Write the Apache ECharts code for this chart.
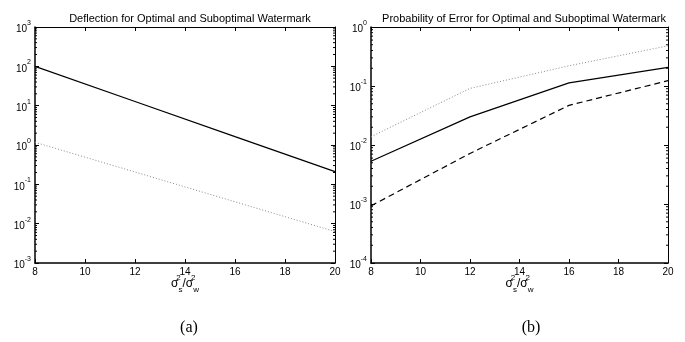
<!DOCTYPE html>
<html>
<head>
<meta charset="utf-8">
<script src="https://cdn.jsdelivr.net/npm/echarts@6/dist/echarts.min.js"></script>
<style>html,body{margin:0;padding:0;background:#fff}#c{width:685px;height:342px}</style>
</head>
<body>
<div id="c"></div>
<script>
// ---- data ----
const xValues = [8, 12, 16, 20];
const xTicks = [8, 10, 12, 14, 16, 18, 20];
// (a) Deflection
const deflOptimal = [100, 12.8, 1.63, 0.21];
const deflSubopt = [1.17, 0.206, 0.036, 0.0063];
// (b) Probability of error
const peDotted = [0.0138, 0.091, 0.22, 0.48];
const peSolid = [0.0053, 0.030, 0.113, 0.207];
const peDashed = [0.00093, 0.0072, 0.047, 0.123];
const yRangeA = [1e-3, 1e3];
const yRangeB = [1e-4, 1];
const titleA = 'Deflection for Optimal and Suboptimal Watermark';
const titleB = 'Probability of Error for Optimal and Suboptimal Watermark';
const captions = ['(a)', '(b)'];

function minorTicks(lo, hi) {
  const out = [];
  for (let e = Math.round(Math.log10(lo)); e < Math.round(Math.log10(hi)); e++) {
    for (let m = 2; m <= 9; m++) out.push(m * Math.pow(10, e));
  }
  return out;
}

const font = 'Liberation Sans, Arial, sans-serif';
const chart = echarts.init(document.getElementById('c'));

const yLabelFmt = v => '{b|10}{s|' + Math.round(Math.log10(v)) + '}';
const yRich = {
  b: { fontSize: 10, fontFamily: font, color: '#000', lineHeight: 15, verticalAlign: 'bottom' },
  s: { fontSize: 7, fontFamily: font, color: '#000', lineHeight: 15, verticalAlign: 'top' }
};
const xName = '{g|σ}{sup|2}{sub|s}{g|/σ}{sup|2}{sub|w}';
const xRich = {
  g: { fontSize: 12, fontFamily: font, color: '#000', lineHeight: 20, verticalAlign: 'middle' },
  sup: { fontSize: 8, fontFamily: font, color: '#000', lineHeight: 20, verticalAlign: 'top', width: 0, align: 'left' },
  sub: { fontSize: 8, fontFamily: font, color: '#000', lineHeight: 20, verticalAlign: 'bottom' }
};

function xAxes(grid) {
  return [
    {
      type: 'value', gridIndex: grid, min: 8, max: 20, interval: 2, position: 'bottom',
      axisLine: { show: true, lineStyle: { color: '#000', width: 1.5 } },
      axisTick: { show: true, inside: true, length: 4, lineStyle: { color: '#000' } },
      axisLabel: { show: true, color: '#000', fontSize: 10, fontFamily: font, margin: 4 },
      splitLine: { show: false },
      name: xName, nameLocation: 'middle', nameGap: 11, nameMoveOverlap: false,
      nameTextStyle: { rich: xRich, verticalAlign: 'top' }
    },
    {
      type: 'value', gridIndex: grid, min: 8, max: 20, interval: 2, position: 'top',
      axisLine: { show: true, onZero: false, lineStyle: { color: '#000', width: 1 } },
      axisTick: { show: true, inside: true, length: 4, lineStyle: { color: '#000' } },
      axisLabel: { show: false }, splitLine: { show: false }
    }
  ];
}
function yAxes(grid, range, split) {
  return [
    {
      type: 'log', logBase: 10, gridIndex: grid, min: range[0], max: range[1], splitNumber: split, position: 'left',
      axisLine: { show: true, lineStyle: { color: '#000', width: 1.5 } },
      axisTick: { show: true, inside: true, length: 4, lineStyle: { color: '#000' } },
      axisLabel: { show: true, formatter: yLabelFmt, rich: yRich, margin: 4 },
      splitLine: { show: false }
    },
    {
      type: 'log', logBase: 10, gridIndex: grid, min: range[0], max: range[1], splitNumber: split, position: 'right',
      axisLine: { show: true, lineStyle: { color: '#000', width: 1 } },
      axisTick: { show: true, inside: true, length: 4, lineStyle: { color: '#000' } },
      axisLabel: { show: false }, splitLine: { show: false }
    }
  ];
}

function minorSeries(xi, yi, range) {
  return {
    type: 'custom', xAxisIndex: xi, yAxisIndex: yi, silent: true, z: 1,
    data: minorTicks(range[0], range[1]).map(v => [8, v]),
    renderItem: function (params, api) {
      const v = api.value(1);
      const pL = api.coord([8, v]);
      const pR = api.coord([20, v]);
      return {
        type: 'group', children: [
          { type: 'line', shape: { x1: pL[0], y1: pL[1], x2: pL[0] + 2, y2: pL[1] }, style: { stroke: '#000', lineWidth: 1 } },
          { type: 'line', shape: { x1: pR[0] - 2, y1: pR[1], x2: pR[0], y2: pR[1] }, style: { stroke: '#000', lineWidth: 1 } }
        ]
      };
    }
  };
}

function line(xi, yi, vals, color, type, width) {
  return {
    type: 'line', xAxisIndex: xi, yAxisIndex: yi, symbol: 'none', animation: false,
    data: xValues.map((x, i) => [x, vals[i]]),
    lineStyle: { color: color, type: type, width: width }
  };
}

const option = {
  animation: false,
  backgroundColor: '#fff',
  title: [
    { text: titleA, left: 185, textAlign: 'center', top: 8, textStyle: { fontSize: 11, fontWeight: 'normal', color: '#000', fontFamily: font } },
    { text: titleB, left: 519, textAlign: 'center', top: 8, textStyle: { fontSize: 11, fontWeight: 'normal', color: '#000', fontFamily: font } },
    { text: captions[0], left: 184, textAlign: 'center', top: 315, textStyle: { fontSize: 16, fontWeight: 'normal', color: '#000', fontFamily: 'Liberation Serif, Times New Roman, serif' } },
    { text: captions[1], left: 526, textAlign: 'center', top: 315, textStyle: { fontSize: 16, fontWeight: 'normal', color: '#000', fontFamily: 'Liberation Serif, Times New Roman, serif' } }
  ],
  grid: [
    { left: 35, right: 350, top: 27, bottom: 79, containLabel: false },
    { left: 371, right: 17, top: 27, bottom: 79, containLabel: false }
  ],
  xAxis: [...xAxes(0), ...xAxes(1)],
  yAxis: [...yAxes(0, yRangeA, 6), ...yAxes(1, yRangeB, 4)],
  series: [
    minorSeries(0, 0, yRangeA),
    minorSeries(2, 2, yRangeB),
    line(0, 0, deflOptimal, '#000', 'solid', 1.2),
    line(0, 0, deflSubopt, '#8a8a8a', [1, 2], 1),
    line(2, 2, peDotted, '#8a8a8a', [1, 2], 1),
    line(2, 2, peSolid, '#000', 'solid', 1.2),
    line(2, 2, peDashed, '#000', [6, 4], 1.2)
  ]
};
chart.setOption(option);
</script>
</body>
</html>
